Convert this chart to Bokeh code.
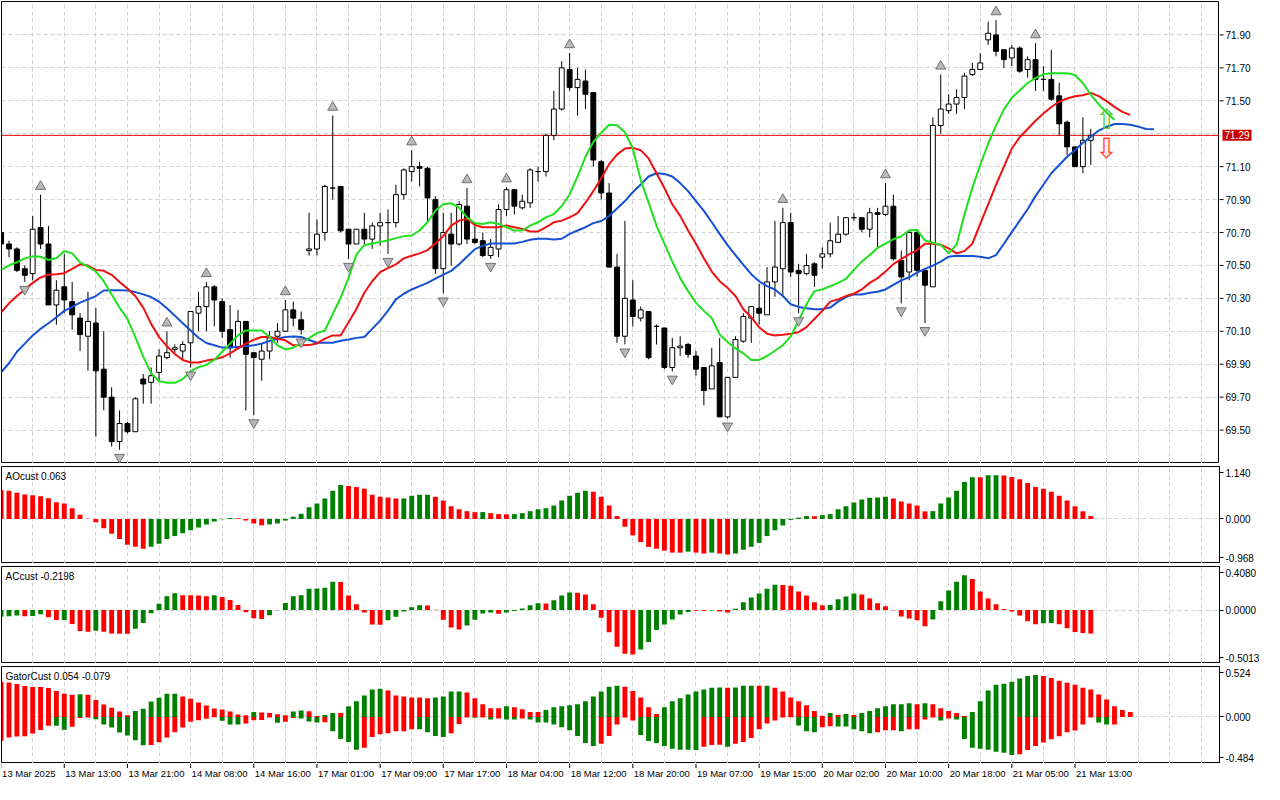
from bokeh.plotting import figure
from bokeh.models import Range1d, FixedTicker, Span, Label, Grid, PrintfTickFormatter, ColumnDataSource
from bokeh.layouts import column, row
from bokeh.embed import file_html
from bokeh.resources import INLINE
from bokeh.core.properties import value

# ---------------- data ----------------
time_labels = ["13 Mar 2025", "13 Mar 13:00", "13 Mar 21:00", "14 Mar 08:00", "14 Mar 16:00",
               "17 Mar 01:00", "17 Mar 09:00", "17 Mar 17:00", "18 Mar 04:00", "18 Mar 12:00",
               "18 Mar 20:00", "19 Mar 07:00", "19 Mar 15:00", "20 Mar 02:00", "20 Mar 10:00",
               "20 Mar 18:00", "21 Mar 05:00", "21 Mar 13:00"]
label_step = 8

opens = [70.70,70.63,70.60,70.48,70.45,70.73,70.63,70.26,70.37,70.28,
         70.18,70.07,70.15,69.87,69.70,69.43,69.54,69.49,69.81,69.79,
         69.85,69.94,69.99,69.98,70.03,70.21,70.25,70.37,70.28,70.11,
         70.00,70.16,69.97,69.93,69.98,70.07,70.10,70.23,70.17,70.59,
         70.60,70.70,70.97,70.98,70.72,70.63,70.72,70.66,70.74,70.76,
         70.76,70.93,71.07,71.10,71.09,70.90,70.48,70.69,70.63,70.86,
         70.66,70.65,70.56,70.60,70.84,70.96,70.85,70.88,71.07,71.07,
         71.29,71.45,71.69,71.58,71.62,71.55,71.13,70.94,70.49,70.07,
         70.29,70.18,70.22,70.13,70.12,69.88,70.00,70.02,69.95,69.88,
         69.75,69.91,69.58,69.82,70.04,70.18,70.24,70.20,70.40,70.48,
         70.76,70.47,70.45,70.51,70.55,70.57,70.64,70.69,70.79,70.79,
         70.72,70.82,70.81,70.86,70.53,70.46,70.70,70.47,70.37,71.35,
         71.44,71.48,71.52,71.66,71.69,71.87,71.90,71.81,71.76,71.82,
         71.69,71.75,71.63,71.63,71.53,71.37,71.22,71.10,71.26]
highs = [70.72,70.65,70.61,70.50,70.80,70.93,70.74,70.41,70.57,70.40,
         70.21,70.34,70.24,70.10,69.76,69.62,69.55,69.70,69.84,69.88,
         69.99,70.10,70.02,70.04,70.22,70.34,70.40,70.38,70.30,70.26,
         70.23,70.16,69.97,70.03,70.10,70.15,70.29,70.28,70.22,70.82,
         70.78,70.99,71.41,70.98,70.72,70.72,70.82,70.76,70.82,70.84,
         70.99,71.09,71.20,71.13,71.10,70.92,70.82,70.82,70.89,70.97,
         70.76,70.70,70.66,70.87,70.975,70.965,70.93,71.09,71.10,71.30,
         71.56,71.74,71.79,71.70,71.69,71.55,71.14,71.00,70.57,70.77,
         70.41,70.25,70.22,70.14,70.12,70.06,70.07,70.03,69.98,69.88,
         70.00,70.06,69.82,70.07,70.21,70.25,70.39,70.49,70.77,70.85,
         70.82,70.51,70.57,70.52,70.61,70.76,70.80,70.79,70.82,70.79,
         70.85,70.85,71.00,70.93,70.59,70.71,70.72,70.47,71.40,71.66,
         71.54,71.57,71.67,71.73,71.79,71.98,71.99,71.81,71.84,71.83,
         71.77,71.85,71.71,71.81,71.61,71.38,71.22,71.40,71.33]
lows = [70.62,70.55,70.46,70.40,70.41,70.60,70.26,70.14,70.21,70.11,
        69.98,69.86,69.46,69.62,69.40,69.38,69.48,69.49,69.66,69.66,
        69.80,69.93,69.97,69.92,69.88,70.10,70.10,70.13,70.06,69.94,
        69.99,69.62,69.59,69.80,69.93,70.03,70.10,70.13,70.08,70.56,
        70.56,70.65,70.90,70.70,70.54,70.63,70.63,70.60,70.62,70.57,
        70.73,70.90,71.01,70.98,70.77,70.45,70.33,70.50,70.62,70.63,
        70.63,70.55,70.54,70.55,70.80,70.81,70.84,70.85,71.01,71.04,
        71.26,71.44,71.56,71.41,71.45,71.10,70.90,70.49,70.03,70.02,
        70.13,70.16,69.93,70.02,69.87,69.855,69.95,69.94,69.83,69.65,
        69.75,69.58,69.57,69.82,70.03,70.03,70.14,70.20,70.31,70.31,
        70.43,70.21,70.44,70.37,70.48,70.55,70.64,70.68,70.77,70.70,
        70.67,70.61,70.80,70.53,70.27,70.41,70.43,70.15,70.37,71.30,
        71.42,71.42,71.45,71.65,71.69,71.84,71.77,71.70,71.71,71.67,
        71.64,71.56,71.56,71.50,71.29,71.17,71.10,71.06,71.11]
closes = [70.63,70.60,70.47,70.44,70.72,70.63,70.26,70.35,70.29,70.20,
          70.08,70.16,69.86,69.70,69.43,69.54,69.49,69.69,69.78,69.83,
          69.95,69.97,70.00,70.02,70.22,70.25,70.37,70.29,70.10,70.00,
          70.16,69.96,69.94,69.98,70.06,70.10,70.23,70.18,70.11,70.60,
          70.69,70.98,70.97,70.71,70.63,70.72,70.66,70.74,70.76,70.76,
          70.93,71.08,71.10,71.09,70.91,70.48,70.70,70.63,70.87,70.66,
          70.64,70.56,70.61,70.84,70.96,70.86,70.89,71.08,71.07,71.29,
          71.45,71.70,71.58,71.63,71.54,71.14,70.94,70.49,70.07,70.30,
          70.19,70.23,69.94,70.13,69.88,70.00,70.01,69.96,69.87,69.74,
          69.89,69.58,69.82,70.05,70.19,70.25,70.21,70.40,70.49,70.76,
          70.46,70.45,70.50,70.44,70.57,70.65,70.69,70.79,70.79,70.72,
          70.82,70.81,70.86,70.54,70.43,70.70,70.47,70.38,71.35,71.45,
          71.48,71.52,71.65,71.69,71.73,71.91,71.80,71.75,71.82,71.68,
          71.75,71.63,71.63,71.51,71.36,71.22,71.10,71.26,71.29]

jaw = [69.85,69.906,69.976,70.025,70.075,70.115,70.149,70.185,70.224,70.248,
       70.274,70.294,70.314,70.348,70.35,70.35,70.348,70.338,70.324,70.308,
       70.28,70.24,70.195,70.149,70.105,70.061,70.029,70.015,70.001,70.001,
       70.005,70.009,70.015,70.025,70.041,70.055,70.065,70.068,70.065,70.047,
       70.03,70.03,70.03,70.042,70.05,70.06,70.065,70.115,70.165,70.225,
       70.294,70.328,70.354,70.374,70.394,70.42,70.444,70.467,70.507,70.553,
       70.599,70.619,70.633,70.633,70.633,70.633,70.643,70.656,70.662,70.662,
       70.658,70.662,70.692,70.712,70.732,70.757,70.77,70.80,70.846,70.891,
       70.945,70.991,71.04,71.06,71.056,71.04,71.00,70.951,70.891,70.831,
       70.762,70.692,70.623,70.563,70.503,70.447,70.404,70.374,70.354,70.314,
       70.264,70.248,70.24,70.234,70.234,70.244,70.28,70.308,70.324,70.324,
       70.334,70.34,70.354,70.382,70.409,70.428,70.456,70.479,70.499,70.523,
       70.553,70.559,70.557,70.557,70.553,70.543,70.563,70.632,70.702,70.772,
       70.841,70.921,70.99,71.06,71.11,71.16,71.20,71.245,71.281,71.319,
       71.341,71.359,71.359,71.355,71.343,71.329,71.327]
teeth = [70.214,70.27,70.314,70.354,70.394,70.427,70.443,70.447,70.453,70.479,
         70.507,70.499,70.473,70.467,70.443,70.40,70.36,70.314,70.244,70.145,
         70.065,70.01,69.962,69.926,69.91,69.91,69.922,69.93,69.942,69.966,
         69.996,70.025,70.049,70.065,70.065,70.055,70.045,70.015,70.015,70.016,
         70.026,70.055,70.075,70.075,70.155,70.235,70.334,70.404,70.459,70.483,
         70.507,70.543,70.559,70.573,70.593,70.633,70.678,70.742,70.772,70.782,
         70.746,70.732,70.732,70.732,70.742,70.732,70.722,70.706,70.706,70.732,
         70.762,70.772,70.792,70.818,70.881,70.951,71.03,71.115,71.173,71.21,
         71.214,71.20,71.15,71.06,70.97,70.871,70.801,70.712,70.632,70.543,
         70.463,70.404,70.364,70.314,70.234,70.185,70.125,70.085,70.075,70.079,
         70.085,70.095,70.125,70.175,70.224,70.28,70.294,70.314,70.328,70.354,
         70.394,70.423,70.463,70.508,70.538,70.568,70.593,70.632,70.632,70.626,
         70.603,70.573,70.587,70.632,70.752,70.871,70.99,71.10,71.21,71.279,
         71.329,71.379,71.423,71.462,71.494,71.514,71.528,71.534,71.548,71.528,
         71.498,71.463,71.433,71.414]
lips = [70.473,70.50,70.519,70.543,70.555,70.553,70.533,70.543,70.587,70.573,
        70.519,70.493,70.463,70.404,70.324,70.244,70.175,70.065,69.946,69.846,
        69.797,69.787,69.787,69.81,69.856,69.882,69.896,69.926,69.976,70.025,
        70.075,70.105,70.105,70.105,70.065,70.015,69.99,70.00,70.03,70.058,
        70.089,70.105,70.205,70.304,70.424,70.567,70.623,70.633,70.643,70.652,
        70.666,70.678,70.682,70.712,70.762,70.832,70.871,70.877,70.851,70.792,
        70.758,70.752,70.762,70.752,70.732,70.712,70.712,70.742,70.762,70.792,
        70.812,70.861,70.931,71.04,71.16,71.25,71.306,71.354,71.352,71.309,
        71.21,71.02,70.881,70.742,70.632,70.523,70.423,70.344,70.274,70.224,
        70.181,70.081,70.035,69.996,69.966,69.926,69.926,69.95,69.982,70.015,
        70.069,70.165,70.264,70.344,70.354,70.374,70.394,70.419,70.473,70.523,
        70.563,70.606,70.632,70.659,70.677,70.714,70.715,70.652,70.638,70.626,
        70.573,70.626,70.81,70.971,71.11,71.239,71.349,71.448,71.518,71.562,
        71.608,71.637,71.661,71.667,71.667,71.667,71.657,71.608,71.538,71.478,
        71.428,71.385]

up_fractals = [5, 21, 26, 36, 42, 52, 59, 64, 72, 99, 112, 119, 126, 131]
down_fractals = [3, 15, 24, 32, 38, 44, 49, 56, 62, 79, 85, 92, 101, 114, 117]
signal_bar = 140
signal_up_price = 71.384
signal_down_price = 71.213

price_range = (69.297, 72.103)
price_ticks = [69.5, 69.7, 69.9, 70.1, 70.3, 70.5, 70.7, 70.9, 71.1, 71.5, 71.7, 71.9]
price_grid = [69.5, 69.7, 69.9, 70.1, 70.3, 70.5, 70.7, 70.9, 71.1, 71.3, 71.5, 71.7, 71.9]

ao = [0.632,0.611,0.569,0.534,0.513,0.492,0.45,0.365,0.337,0.232,
      0.091,0.007,-0.07,-0.204,-0.323,-0.436,-0.562,-0.604,-0.647,-0.604,
      -0.541,-0.436,-0.372,-0.309,-0.246,-0.183,-0.119,-0.056,-0.005,0.02,
      0.014,-0.035,-0.098,-0.14,-0.119,-0.098,-0.035,0.049,0.112,0.256,
      0.337,0.443,0.611,0.738,0.717,0.696,0.654,0.527,0.485,0.464,
      0.443,0.445,0.506,0.525,0.527,0.485,0.401,0.274,0.211,0.169,
      0.148,0.15,0.126,0.105,0.10,0.105,0.126,0.169,0.211,0.232,
      0.295,0.401,0.506,0.569,0.611,0.59,0.485,0.295,0.063,-0.169,
      -0.358,-0.503,-0.608,-0.647,-0.689,-0.731,-0.733,-0.71,-0.731,-0.752,
      -0.731,-0.752,-0.773,-0.752,-0.668,-0.604,-0.52,-0.372,-0.246,-0.141,
      -0.021,0.028,0.063,0.06,0.084,0.105,0.211,0.274,0.358,0.422,
      0.462,0.464,0.485,0.443,0.38,0.337,0.295,0.165,0.17,0.337,
      0.464,0.611,0.801,0.907,0.905,0.949,0.952,0.945,0.914,0.864,
      0.78,0.696,0.654,0.59,0.506,0.401,0.274,0.169,0.063]
ao_colors = ("r"*19 + "g"*11 + "r"*4 + "g"*10 + "r"*7 + "g"*4 + "r"*6 + "g" + "r"*3 +
             "g"*10 + "r"*12 + "g" + "r"*2 + "g" + "r"*2 + "g"*10 + "r" + "g"*9 + "r"*5 +
             "g"*6 + "r" + "g"*2 + "r"*12)
ao_range = (-0.968, 1.140)

ac = [-0.064,-0.058,-0.052,-0.058,-0.055,-0.039,-0.067,-0.094,-0.093,-0.13,
      -0.197,-0.203,-0.194,-0.203,-0.221,-0.222,-0.223,-0.176,-0.121,-0.03,
      0.058,0.13,0.158,0.139,0.138,0.137,0.13,0.139,0.121,0.094,
      0.048,-0.021,-0.076,-0.085,-0.048,-0.003,0.067,0.13,0.139,0.20,
      0.202,0.209,0.264,0.262,0.136,0.055,-0.024,-0.136,-0.138,-0.097,
      -0.064,-0.015,0.027,0.045,0.043,0.002,-0.091,-0.164,-0.182,-0.145,
      -0.091,-0.033,-0.024,-0.036,-0.024,-0.009,0.015,0.045,0.064,0.062,
      0.091,0.136,0.164,0.162,0.145,0.055,-0.073,-0.209,-0.345,-0.409,
      -0.418,-0.371,-0.30,-0.188,-0.136,-0.088,-0.042,-0.018,-0.006,-0.008,
      -0.004,-0.015,-0.024,0.012,0.073,0.118,0.155,0.20,0.236,0.234,
      0.227,0.173,0.136,0.073,0.045,0.047,0.10,0.127,0.155,0.145,
      0.109,0.064,0.036,-0.003,-0.061,-0.079,-0.097,-0.152,-0.088,0.082,
      0.182,0.264,0.327,0.291,0.173,0.109,0.055,0.009,-0.015,-0.052,
      -0.106,-0.133,-0.124,-0.122,-0.133,-0.17,-0.206,-0.215,-0.22]
ac_colors = ("g"*3 + "r" + "g"*2 + "r"*2 + "g" + "r"*3 + "g" + "r"*4 + "g"*6 + "r"*4 + "g" +
             "r"*6 + "g"*9 + "r"*6 + "g"*5 + "r"*5 + "g"*4 + "r" + "g"*5 + "r" + "g"*3 +
             "r"*8 + "g"*7 + "r"*2 + "g" + "r"*2 + "g"*6 + "r"*6 + "g"*4 + "r"*9 + "g"*5 +
             "r"*9 + "g"*2 + "r"*5)
ac_range = (-0.5013, 0.4080)

gator_up = [0.365,0.358,0.341,0.321,0.311,0.31,0.301,0.27,0.24,0.23,
            0.236,0.23,0.176,0.128,0.095,0.057,0.017,0.061,0.084,0.159,
            0.199,0.24,0.241,0.213,0.189,0.149,0.118,0.088,0.078,0.057,
            0.024,0.017,0.051,0.047,0.041,0.027,0.017,0.057,0.068,0.058,
            0.01,0.02,0.041,0.04,0.111,0.162,0.223,0.284,0.294,0.274,
            0.223,0.213,0.203,0.202,0.193,0.203,0.213,0.264,0.265,0.253,
            0.193,0.132,0.091,0.09,0.111,0.101,0.081,0.051,0.05,0.071,
            0.101,0.111,0.122,0.132,0.162,0.213,0.264,0.314,0.324,0.314,
            0.27,0.203,0.101,0.03,0.101,0.162,0.193,0.233,0.264,0.284,
            0.304,0.305,0.303,0.305,0.324,0.325,0.324,0.325,0.304,0.264,
            0.203,0.162,0.122,0.061,0.012,0.041,0.02,0.03,0.02,0.041,
            0.061,0.091,0.111,0.132,0.133,0.142,0.132,0.143,0.132,0.091,
            0.061,0.041,0.01,0.051,0.162,0.274,0.334,0.345,0.365,0.399,
            0.426,0.436,0.426,0.405,0.375,0.355,0.334,0.304,0.284,0.233,
            0.182,0.111,0.071,0.051]
gator_up_colors = ("r"*10 + "g" + "r"*6 + "g"*6 + "r"*9 + "g" + "r"*4 + "g"*2 + "r"*2 + "g"*2 +
                   "r" + "g"*5 + "r"*6 + "g"*4 + "r"*5 + "g" + "r"*4 + "g"*10 + "r"*5 + "g"*8 +
                   "r" + "g"*3 + "r" + "g" + "r"*7 + "g" + "r" + "g" + "r" + "g"*7 + "r" + "g" +
                   "r"*5 + "g"*9 + "r"*12)
gator_dn = [-0.247,-0.213,-0.203,-0.202,-0.172,-0.135,-0.091,-0.092,-0.132,-0.101,
            -0.01,-0.007,-0.024,-0.078,-0.111,-0.162,-0.193,-0.243,-0.294,-0.293,
            -0.264,-0.213,-0.159,-0.111,-0.051,-0.034,-0.02,-0.003,-0.041,-0.078,
            -0.079,-0.068,-0.034,-0.033,-0.007,-0.061,-0.051,-0.01,-0.017,-0.047,
            -0.057,-0.056,-0.149,-0.23,-0.26,-0.341,-0.321,-0.209,-0.179,-0.169,
            -0.149,-0.148,-0.128,-0.129,-0.159,-0.199,-0.209,-0.169,-0.074,-0.007,
            -0.008,-0.007,-0.027,-0.017,-0.027,-0.028,-0.017,-0.027,-0.057,-0.058,
            -0.078,-0.108,-0.139,-0.199,-0.27,-0.301,-0.28,-0.199,-0.078,-0.007,
            -0.037,-0.189,-0.25,-0.27,-0.301,-0.331,-0.341,-0.342,-0.343,-0.311,
            -0.291,-0.29,-0.311,-0.28,-0.26,-0.22,-0.128,-0.068,-0.037,-0.007,
            -0.003,-0.088,-0.15,-0.16,-0.108,-0.098,-0.099,-0.1,-0.128,-0.149,
            -0.169,-0.159,-0.139,-0.138,-0.149,-0.128,-0.127,-0.027,-0.007,-0.037,
            -0.017,-0.027,-0.23,-0.321,-0.331,-0.34,-0.361,-0.372,-0.395,-0.389,
            -0.345,-0.301,-0.267,-0.233,-0.2,-0.159,-0.142,-0.078,-0.007,-0.057,
            -0.08,-0.079]
gator_dn_colors = ("r"*7 + "g"*2 + "r"*3 + "g"*7 + "r"*9 + "g"*3 + "r"*4 + "g" + "r"*2 + "g"*3 +
                   "r" + "g"*4 + "r"*7 + "g"*4 + "r"*3 + "g" + "r" + "g" + "r" + "g"*2 + "r" +
                   "g"*9 + "r"*5 + "g"*8 + "r"*3 + "g" + "r"*8 + "g"*3 + "r"*2 + "g"*5 + "r"*3 +
                   "g" + "r"*4 + "g" + "r" + "g"*8 + "r"*10 + "g"*2 + "r")
gator_range = (-0.484, 0.524)

ao_title = "AOcust 0.063"
ac_title = "ACcust -0.2198"
gator_title = "GatorCust 0.054 -0.079"

# ---------------- styling ----------------
FONT = "Liberation Sans"
FW = 1218
AXIS_W = 42
MAIN_H = 462
SUB_H = 97
STRIP_H = 18
X_RANGE = Range1d(0.05, 154.3)
GRID_COLOR = "#d2d2d2"
GRID_DASH = "4 3"
HIST = {"g": "#008000", "r": "#ff0000"}
COL_JAW, COL_TEETH, COL_LIPS = "#1450d2", "#ee1111", "#1ee01e"
PRICE_LINE = "#e00000"
BAR_W = 0.62


def style_axis(ax):
    ax.axis_line_color = "black"
    ax.major_tick_out = 4
    ax.major_tick_in = 0
    ax.minor_tick_out = 0
    ax.minor_tick_in = 0
    ax.major_label_text_font = FONT
    ax.major_label_text_font_size = "10px"
    ax.major_label_text_color = "black"
    ax.major_label_standoff = 2


def base_fig(frame_h, y_lo, y_hi, top_border, y_axis="right"):
    p = figure(frame_width=FW, frame_height=frame_h, x_range=X_RANGE,
               y_range=Range1d(y_lo, y_hi), output_backend="svg", toolbar_location=None,
               x_axis_location=None, y_axis_location=y_axis,
               min_border_left=1, min_border_right=0, min_border_top=top_border,
               min_border_bottom=0, background_fill_color="white",
               border_fill_color="white", outline_line_color="black",
               outline_line_width=1)
    p.grid.visible = False
    p.add_layout(Grid(dimension=0, ticker=FixedTicker(ticks=list(range(4, 155, 4))),
                      grid_line_color=GRID_COLOR, grid_line_dash=GRID_DASH,
                      grid_line_width=1))
    if y_axis is not None:
        style_axis(p.yaxis[0])
    return p


# ---------------- main price pane ----------------
main = base_fig(MAIN_H, price_range[0], price_range[1], 1, y_axis=None)
main.add_layout(Grid(dimension=1, ticker=FixedTicker(ticks=price_grid),
                     grid_line_color=GRID_COLOR, grid_line_dash=GRID_DASH, grid_line_width=1))

main.add_layout(Span(location=closes[-1], dimension="width", line_color=PRICE_LINE,
                     line_width=1, level="underlay"))

idx = list(range(len(closes)))
src = ColumnDataSource(dict(
    x=idx, o=opens, h=highs, l=lows, c=closes,
    top=[max(o, c) for o, c in zip(opens, closes)],
    bottom=[min(o, c) for o, c in zip(opens, closes)],
    fill=["white" if c >= o else "black" for o, c in zip(opens, closes)],
))
main.segment(x0="x", y0="l", x1="x", y1="h", source=src, line_color="black", line_width=1)
main.vbar(x="x", width=BAR_W, top="top", bottom="bottom", fill_color="fill",
          line_color="black", line_width=1, source=src)

main.line(x=list(range(len(jaw))), y=jaw, line_color=COL_JAW, line_width=2)
main.line(x=list(range(len(teeth))), y=teeth, line_color=COL_TEETH, line_width=2)
main.line(x=list(range(len(lips))), y=lips, line_color=COL_LIPS, line_width=2)

main.scatter(x=up_fractals, y=[highs[i] + 0.05 for i in up_fractals], marker="triangle",
             size=10, fill_color="#b8b8b8", line_color="#707070", line_width=1)
main.scatter(x=down_fractals, y=[lows[i] - 0.045 for i in down_fractals],
             marker="inverted_triangle", size=10, fill_color="#b8b8b8",
             line_color="#707070", line_width=1)

main.text(x=[signal_bar], y=[signal_up_price], text=["\u21e7"], text_color="#5ccf3c",
          text_align="center", text_baseline="middle", text_font_size="28px",
          text_font=value("DejaVu Sans"))
main.text(x=[signal_bar], y=[signal_down_price], text=["\u21e9"], text_color="#ff4a3a",
          text_align="center", text_baseline="middle", text_font_size="28px",
          text_font=value("DejaVu Sans"))

# price scale drawn as its own narrow panel (so the current-price box can sit on it)
price_axis = figure(frame_width=AXIS_W, frame_height=MAIN_H, x_range=Range1d(0, AXIS_W),
                    y_range=main.y_range, output_backend="svg", toolbar_location=None,
                    x_axis_location=None, y_axis_location=None, min_border_left=0,
                    min_border_right=0, min_border_top=1, min_border_bottom=0,
                    outline_line_color=None, background_fill_color="white",
                    border_fill_color="white")
price_axis.grid.visible = False
nt = len(price_ticks)
price_axis.segment(x0=[0] * nt, y0=price_ticks, x1=[4] * nt, y1=price_ticks,
                   line_color="black", line_width=1)
price_axis.text(x=[6] * nt, y=price_ticks, text=["%.2f" % t for t in price_ticks],
                text_font=value(FONT), text_font_size="10px", text_color="black",
                text_align="left", text_baseline="middle")
px_per_price = MAIN_H / (price_range[1] - price_range[0])
box_half = 5.5 / px_per_price
price_axis.quad(left=[3], right=[32], bottom=[closes[-1] - box_half], top=[closes[-1] + box_half],
                fill_color="#c80000", line_color=None)
price_axis.text(x=[5], y=[closes[-1]], text=["%.2f" % closes[-1]], text_font=value(FONT),
                text_font_size="10px", text_color="white", text_align="left",
                text_baseline="middle")


# ---------------- indicator panes ----------------
def sub_pane(title, y_rng, fmt):
    y_lo, y_hi = y_rng
    p = base_fig(SUB_H, y_lo, y_hi, 3)
    p.add_layout(Grid(dimension=1, ticker=FixedTicker(ticks=[0.0]),
                      grid_line_color=GRID_COLOR, grid_line_dash=GRID_DASH, grid_line_width=1))
    inset = (y_hi - y_lo) / SUB_H * 6
    t_lo, t_hi = y_lo + inset, y_hi - inset
    ax = p.yaxis[0]
    ax.ticker = FixedTicker(ticks=[t_lo, 0.0, t_hi])
    ax.formatter = PrintfTickFormatter(format=fmt)
    ax.major_label_overrides = {t_lo: fmt % y_lo, 0.0: fmt % 0.0, t_hi: fmt % y_hi}
    p.add_layout(Label(x=4, y=SUB_H - 4, x_units="screen", y_units="screen", text=title,
                       text_font=FONT, text_font_size="10px", text_baseline="top",
                       text_color="black"))
    return p


ao_p = sub_pane(ao_title, ao_range, "%.3f")
ao_p.vbar(x=list(range(len(ao))), top=ao, bottom=0, width=BAR_W,
          fill_color=[HIST[c] for c in ao_colors], line_color=None)

ac_p = sub_pane(ac_title, ac_range, "%.4f")
ac_p.vbar(x=list(range(len(ac))), top=ac, bottom=0, width=BAR_W,
          fill_color=[HIST[c] for c in ac_colors], line_color=None)

gt_p = sub_pane(gator_title, gator_range, "%.3f")
gt_p.vbar(x=list(range(len(gator_up))), top=gator_up, bottom=0, width=BAR_W,
          fill_color=[HIST[c] for c in gator_up_colors], line_color=None)
gt_p.vbar(x=list(range(len(gator_dn))), top=0, bottom=gator_dn, width=BAR_W,
          fill_color=[HIST[c] for c in gator_dn_colors], line_color=None)

# ---------------- time axis strip ----------------
strip = figure(frame_width=FW, frame_height=STRIP_H, x_range=X_RANGE, y_range=Range1d(0, 1),
               output_backend="svg", toolbar_location=None, x_axis_location=None,
               y_axis_location=None, min_border_left=1, min_border_right=0,
               min_border_top=0, min_border_bottom=0, outline_line_color=None,
               background_fill_color="white", border_fill_color="white")
strip.grid.visible = False
tick_x = [k * label_step for k in range(len(time_labels))]
n = len(tick_x)
strip.segment(x0=tick_x, y0=[1] * n, x1=tick_x, y1=[0.75] * n, line_color="black", line_width=1)
strip.text(x=tick_x, y=[0.42] * n, text=time_labels, text_font=value(FONT),
           text_font_size="9.5px", text_align="left", text_baseline="middle",
           text_color="black", x_offset=1)

layout = column(row(main, price_axis, spacing=0), ao_p, ac_p, gt_p, strip, spacing=0)
open("out.html", "w").write(file_html(layout, INLINE, title="chart"))
